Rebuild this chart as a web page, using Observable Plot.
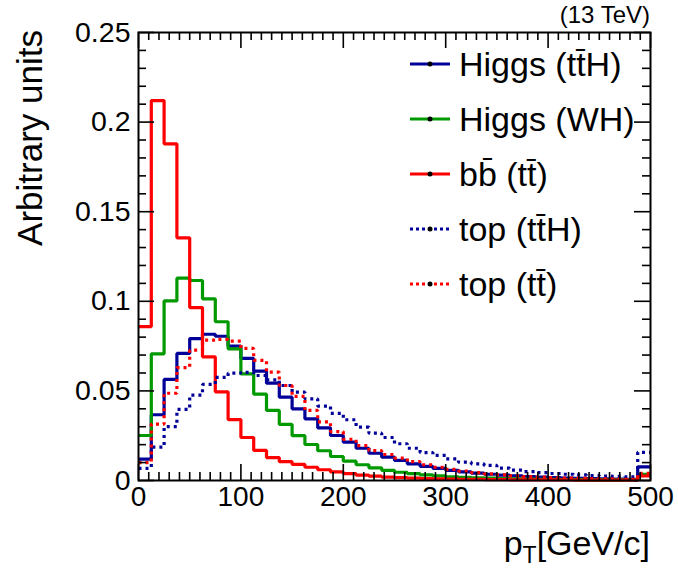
<!DOCTYPE html>
<html><head><meta charset="utf-8">
<script src="https://cdn.jsdelivr.net/npm/d3@7"></script>
<script src="https://cdn.jsdelivr.net/npm/@observablehq/plot@0.6"></script>
<style>html,body{margin:0;padding:0;background:#fff}#chart svg{display:block}</style>
</head><body><div id="chart"></div>
<script>
// bin lower edges (GeV/c), 40 bins of 12.5 GeV; last bin includes overflow
const binLow = [0,12.5,25,37.5,50,62.5,75,87.5,100,112.5,125,137.5,150,162.5,175,187.5,200,212.5,225,237.5,
  250,262.5,275,287.5,300,312.5,325,337.5,350,362.5,375,387.5,400,412.5,425,437.5,450,462.5,475,487.5];
const xMax = 500;

const higgsTTH = [0.0119,0.0367,0.0564,0.0709,0.0792,0.0816,0.0805,0.0750,0.0681,0.0610,
  0.0543,0.0465,0.0400,0.0344,0.0294,0.0251,0.0214,0.0180,0.0152,0.0130,
  0.0112,0.0093,0.0079,0.0068,0.0057,0.0048,0.0041,0.0035,0.0030,0.0026,
  0.0022,0.0019,0.0016,0.0014,0.0012,0.0010,0.0009,0.0008,0.0007,0.0076];
const higgsWH = [0.0251,0.0707,0.1002,0.1129,0.1116,0.1014,0.0886,0.0735,0.0595,0.0482,
  0.0391,0.0313,0.0250,0.0201,0.0166,0.0134,0.0108,0.0088,0.0071,0.0057,
  0.0046,0.0038,0.0031,0.0026,0.0021,0.0018,0.0015,0.0013,0.0011,0.0009,
  0.0008,0.0007,0.0006,0.0005,0.0005,0.0004,0.0004,0.0003,0.0003,0.0035];
const bbTT = [0.0859,0.2120,0.1879,0.1354,0.0965,0.0690,0.0495,0.0340,0.0240,0.0168,
  0.0128,0.0105,0.0090,0.0074,0.0060,0.0048,0.0038,0.0030,0.0024,0.0019,
  0.0016,0.0013,0.0011,0.0009,0.0008,0.0007,0.0006,0.0005,0.0005,0.0004,
  0.0004,0.0003,0.0003,0.0003,0.0002,0.0002,0.0002,0.0002,0.0002,0.0025];
const topTTH = [0.0068,0.0186,0.0301,0.0397,0.0476,0.0536,0.0575,0.0599,0.0603,0.0586,
  0.0562,0.0530,0.0493,0.0456,0.0415,0.0375,0.0339,0.0298,0.0264,0.0240,
  0.0205,0.0180,0.0156,0.0140,0.0121,0.0102,0.0093,0.0084,0.0069,0.0058,
  0.0050,0.0044,0.0039,0.0035,0.0031,0.0028,0.0025,0.0023,0.0021,0.0157];
const topTT = [0.0100,0.0315,0.0487,0.0630,0.0727,0.0783,0.0787,0.0778,0.0737,0.0670,
  0.0605,0.0530,0.0470,0.0391,0.0327,0.0273,0.0229,0.0195,0.0167,0.0145,
  0.0125,0.0105,0.0088,0.0074,0.0062,0.0052,0.0044,0.0037,0.0031,0.0026,
  0.0022,0.0019,0.0016,0.0014,0.0012,0.0010,0.0009,0.0008,0.0007,0.0040];

const seriesNames = ["Higgs (tt\u0304H)", "Higgs (WH)", "bb\u0304 (tt\u0304)", "top (tt\u0304H)", "top (tt\u0304)"];
const seriesValues = [higgsTTH, higgsWH, bbTT, topTTH, topTT];
const seriesColors = ["#000099", "#009900", "#ff0000", "#000099", "#ff0000"];
const seriesDotted = [false, false, false, true, true];

const xTicks = [0, 100, 200, 300, 400, 500];
const yTicks = [0, 0.05, 0.1, 0.15, 0.2, 0.25];
const xMinor = d3.range(10, 500, 10).filter(v => v % 100 !== 0);
const yMinor = d3.range(1, 25).filter(v => v % 5 !== 0).map(v => v / 100);

const W = 678, H = 574, ML = 138, MR = 28, MT = 32, MB = 94;
const innerW = W - ML - MR, innerH = H - MT - MB;
const FONT = "'Liberation Sans', Arial, Helvetica, sans-serif";

function histRows(vals) {
  const r = binLow.map((x, i) => ({x, y: vals[i]}));
  r.push({x: xMax, y: vals[vals.length - 1]});
  return r;
}

const lineMarks = seriesValues.map((vals, i) => Plot.line(histRows(vals), {
  x: "x", y: "y", curve: "step-after", stroke: seriesColors[i], strokeWidth: 3.2,
  strokeDasharray: seriesDotted[i] ? "3,4" : null, strokeLinejoin: "miter", strokeLinecap: "butt"
}));

const tickStyle = {stroke: "black", strokeWidth: 1.6};
const plot = Plot.plot({
  width: W, height: H, marginLeft: ML, marginRight: MR, marginTop: MT, marginBottom: MB,
  style: {fontFamily: FONT, background: "white", color: "black"},
  x: {domain: [0, 500]},
  y: {domain: [0, 0.25]},
  marks: [
    ...lineMarks,
    Plot.tickX(xMinor, {...tickStyle, insetTop: innerH - 8}),
    Plot.tickX(xTicks, {...tickStyle, insetTop: innerH - 16}),
    Plot.tickX(xMinor, {...tickStyle, insetBottom: innerH - 8}),
    Plot.tickX(xTicks, {...tickStyle, insetBottom: innerH - 16}),
    Plot.tickY(yMinor, {...tickStyle, insetRight: innerW - 8}),
    Plot.tickY(yTicks, {...tickStyle, insetRight: innerW - 16}),
    Plot.tickY(yMinor, {...tickStyle, insetLeft: innerW - 8}),
    Plot.tickY(yTicks, {...tickStyle, insetLeft: innerW - 16}),
    Plot.frame({stroke: "black", strokeWidth: 2}),
    Plot.axisX(xTicks, {anchor: "bottom", tickSize: 0, tickPadding: 6, fontSize: 28, label: null, tickFormat: d => String(d)}),
    Plot.axisY(yTicks, {anchor: "left", tickSize: 0, tickPadding: 8, fontSize: 28.5, label: null, tickFormat: d => String(d)})
  ]
});
document.getElementById("chart").appendChild(plot);

// annotations, axis titles and legend
const svg = d3.select(plot);
svg.append("text").attr("x", 650).attr("y", 23).attr("text-anchor", "end")
  .attr("font-family", FONT).attr("font-size", 24).attr("fill", "black").text("(13 TeV)");
svg.append("text").attr("transform", "translate(42,30) rotate(-90)").attr("text-anchor", "end")
  .attr("font-family", FONT).attr("font-size", 35).attr("fill", "black").text("Arbitrary units");
const xt = svg.append("text").attr("x", 650).attr("y", 555).attr("text-anchor", "end")
  .attr("font-family", FONT).attr("font-size", 34).attr("fill", "black");
xt.append("tspan").text("p");
xt.append("tspan").attr("font-size", 23).attr("dy", 8).text("T");
xt.append("tspan").attr("dy", -8).text("[GeV/c]");

const lg = svg.append("g");
seriesNames.forEach((name, i) => {
  const cy = 64 + i * 55;
  lg.append("line").attr("x1", 410).attr("x2", 450).attr("y1", cy).attr("y2", cy)
    .attr("stroke", seriesColors[i]).attr("stroke-width", 3)
    .attr("stroke-dasharray", seriesDotted[i] ? "3,3" : null);
  lg.append("circle").attr("cx", 430).attr("cy", cy).attr("r", 2.5).attr("fill", "black");
  lg.append("text").attr("x", 459).attr("y", cy + 11.5).attr("text-anchor", "start")
    .attr("font-family", FONT).attr("font-size", 34).attr("fill", "black").text(name);
});
</script></body></html>
